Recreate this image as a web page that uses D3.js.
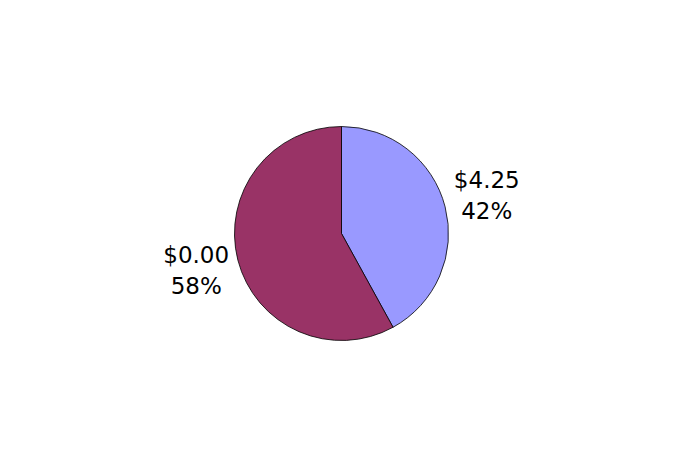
<!DOCTYPE html>
<html>
<head>
<meta charset="utf-8">
<script src="https://cdn.jsdelivr.net/npm/d3@7"></script>
<style>
  body { margin: 0; background: #fff; }
  text { font-family: "DejaVu Sans", sans-serif; font-size: 23px; fill: #000; }
</style>
</head>
<body>
<div id="chart"></div>
<script>
// chart data
var amounts = ["$4.25", "$0.00"];
var percents = [42, 58];
var colors = ["#9999FF", "#993366"];

var svgWidth = 683;
var svgHeight = 467;
var cx = 341.5, cy = 233.5;
var radius = 107;

var svg = d3.select("#chart")
  .append("svg")
  .attr("width", svgWidth)
  .attr("height", svgHeight);

var pieGroup = svg.append("g")
  .attr("transform", `translate(${cx}, ${cy})`);

var pie = d3.pie().sort(null).value(d => d);
var arcs = pie(percents);

var arc = d3.arc().innerRadius(0).outerRadius(radius);
var labelArc = d3.arc().innerRadius(150).outerRadius(150);

// slices
pieGroup.selectAll("path")
  .data(arcs)
  .enter()
  .append("path")
  .attr("d", arc)
  .attr("fill", (d, i) => colors[i])
  .attr("stroke", "#000")
  .attr("stroke-width", 0.8);

// labels: amount on first line, percent below
var labels = pieGroup.selectAll("g.label")
  .data(arcs)
  .enter()
  .append("g")
  .attr("class", "label")
  .attr("transform", d => `translate(${labelArc.centroid(d)})`);

labels.append("text")
  .attr("text-anchor", "middle")
  .attr("y", -8)
  .text((d, i) => amounts[i]);

labels.append("text")
  .attr("text-anchor", "middle")
  .attr("y", 23)
  .text(d => d.data + "%");
</script>
</body>
</html>
